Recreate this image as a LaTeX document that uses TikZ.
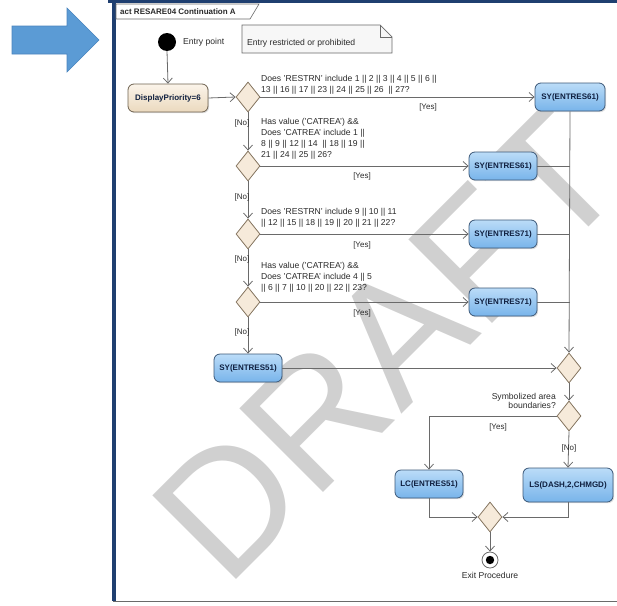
\documentclass[tikz,border=0pt]{standalone}
\usepackage{fontspec}
\setmainfont{Liberation Sans}
\usetikzlibrary{arrows.meta,shapes.geometric,shadows}

\definecolor{framecol}{HTML}{1F3F70}
\definecolor{bigarrow}{HTML}{5B9BD5}
\definecolor{bigarrowline}{HTML}{4A84BE}
\definecolor{linecol}{HTML}{6A6A6A}
\definecolor{textcol}{HTML}{2A2A2A}
\definecolor{acttop}{HTML}{BBDCF8}
\definecolor{actbot}{HTML}{78B4EA}
\definecolor{actborder}{HTML}{3C5878}
\definecolor{acttext}{HTML}{0F1F3F}
\definecolor{begetop}{HTML}{FBF4EA}
\definecolor{begebot}{HTML}{EBD9BE}
\definecolor{begeborder}{HTML}{6E6250}
\definecolor{decfill}{HTML}{F6EADA}
\definecolor{decborder}{HTML}{857560}
\definecolor{notefill}{HTML}{F7F7F7}
\definecolor{watermark}{HTML}{D0D0D0}

\begin{document}
\begin{tikzpicture}[x=1pt,y=-1pt,
  act/.style={rectangle, rounded corners=6pt, draw=actborder, line width=0.8pt,
    top color=acttop, bottom color=actbot, text=acttext,
    font=\fontsize{8}{9}\selectfont\bfseries, minimum height=28pt, inner sep=2pt,
    drop shadow={opacity=0.25, shadow xshift=1.2pt, shadow yshift=-1.2pt}},
  startact/.style={act, top color=begetop, bottom color=begebot, draw=begeborder},
  dec/.style={diamond, draw=decborder, fill=decfill, line width=0.8pt,
    minimum width=24pt, minimum height=30pt, inner sep=0pt},
  flow/.style={draw=linecol, line width=0.8pt, -{Straight Barb[length=5pt,width=9pt]}},
  plain/.style={draw=linecol, line width=0.8pt},
  guard/.style={font=\fontsize{8}{9}\selectfont, text=textcol, inner sep=1pt},
  cond/.style={font=\fontsize{8.6}{11}\selectfont, text=textcol, align=left,
    inner sep=0pt, anchor=north west},
  lbl/.style={font=\fontsize{8.6}{10}\selectfont, text=textcol, inner sep=0pt}
]
\useasboundingbox (0,0) rectangle (617,605);

% watermark behind the diagram
\node[rotate=45, anchor=base west, inner sep=0pt, text=watermark,
  font=\fontsize{172}{172}\selectfont] (wm) at (226,590) {DRAFT};

% big pointer arrow on the left
\filldraw[fill=bigarrow, draw=bigarrowline, line width=0.6pt]
  (12,26) -- (67,26) -- (67,8) -- (99,40) -- (67,72) -- (67,54) -- (12,54) -- cycle;

% diagram frame
\fill[framecol] (108,0) rectangle (617,3);
\fill[framecol] (112,0) rectangle (116,601);
\draw[linecol, line width=1.2pt] (113,601.5) -- (617,601.5);
\filldraw[fill=white, draw=linecol, line width=0.6pt]
  (116,4) -- (259,4) -- (250,19) -- (116,19) -- cycle;
\node[anchor=west, inner sep=0pt, text=textcol, font=\fontsize{8}{9}\selectfont\bfseries]
  (title) at (120,11.5) {act RESARE04 Continuation A};

% entry point and note
\fill[black] (167,42) circle (9);
\coordinate (entry) at (167,51);
\node[lbl, anchor=west] (entrylbl) at (183,42) {Entry point};
\filldraw[fill=notefill, draw=linecol, line width=0.7pt]
  (242,25) -- (380,25) -- (392,37) -- (392,53) -- (242,53) -- cycle;
\draw[linecol, line width=0.6pt] (380,25) -- (380,37) -- (392,37);
\node[lbl, anchor=west] (note) at (247,43) {Entry restricted or prohibited};

% nodes
\node[startact, minimum width=80pt] (dp) at (168,98) {DisplayPriority=6};
\node[dec] (d1) at (248,97) {};
\node[act, minimum width=70pt] (sy1) at (570,97) {SY(ENTRES61)};
\node[dec] (d2) at (248,166) {};
\node[act, minimum width=68pt] (sy2) at (503,166) {SY(ENTRES61)};
\node[dec] (d3) at (248,234) {};
\node[act, minimum width=68pt] (sy3) at (503,234) {SY(ENTRES71)};
\node[dec] (d4) at (248,302) {};
\node[act, minimum width=68pt] (sy4) at (503,302) {SY(ENTRES71)};
\node[act, minimum width=68pt] (sy5) at (248,368) {SY(ENTRES51)};
\node[dec] (m1) at (569,368) {};
\node[dec] (d5) at (569,416) {};
\node[act, minimum width=68pt] (lc) at (429,484) {LC(ENTRES51)};
\node[act, minimum width=90pt, minimum height=34pt] (ls) at (568,485) {LS(DASH,2,CHMGD)};
\node[dec] (m2) at (490,517) {};
\node[circle, draw=linecol, fill=white, line width=0.8pt, minimum size=16pt, inner sep=0pt] (fin) at (490,560) {};
\fill[black] (fin.center) circle (4.2);
\node[lbl, anchor=north] (finlbl) at (490,572) {Exit Procedure};

% condition texts
\node[cond] (c1) at (261,75) {Does 'RESTRN' include 1 || 2 || 3 || 4 || 5 || 6 ||\\13 || 16 || 17 || 23 || 24 || 25 || 26 \ || 27?};
\node[cond] (c2) at (261,118) {Has value ('CATREA') \&\&\\Does 'CATREA' include 1 ||\\8 || 9 || 12 || 14 \ || 18 || 19 ||\\21 || 24 || 25 || 26?};
\node[cond] (c3) at (261,208) {Does 'RESTRN' include 9 || 10 || 11\\|| 12 || 15 || 18 || 19 || 20 || 21 || 22?};
\node[cond] (c4) at (261,262) {Has value ('CATREA') \&\&\\Does 'CATREA' include 4 || 5\\|| 6 || 7 || 10 || 20 || 22 || 23?};
\node[lbl, align=right, anchor=north east, font=\fontsize{8.6}{9.5}\selectfont] (c5) at (556,393) {Symbolized area\\boundaries?};

% connectors
\draw[flow] (entry) -- (dp.north);
\draw[flow] (dp.east) -- (d1.west);
\draw[flow] (d1.east) -- (sy1.west);
\draw[flow] (d1.south) -- (d2.north);
\draw[flow] (d2.east) -- (sy2.west);
\draw[flow] (d2.south) -- (d3.north);
\draw[flow] (d3.east) -- (sy3.west);
\draw[flow] (d3.south) -- (d4.north);
\draw[flow] (d4.east) -- (sy4.west);
\draw[flow] (d4.south) -- (sy5.north);
\draw[flow] (sy5.east) -- (m1.west);
\draw[flow] (sy1.south) -- (m1.north);
\draw[plain] (sy2.east) -- (sy2.east -| sy1.south);
\draw[plain] (sy3.east) -- (sy3.east -| sy1.south);
\draw[plain] (sy4.east) -- (sy4.east -| sy1.south);
\draw[flow] (m1.south) -- (d5.north);
\draw[flow] (d5.west) -| (lc.north);
\draw[flow] (d5.south) -- (ls.north);
\draw[flow] (lc.south) |- (m2.west);
\draw[flow] (ls.south) |- (m2.east);
\draw[flow] (m2.south) -- (fin.north);

% guards
\node[guard] (y1) at (428,107) {[Yes]};
\node[guard] (y2) at (362,176) {[Yes]};
\node[guard] (y3) at (362,245) {[Yes]};
\node[guard] (y4) at (362,313) {[Yes]};
\node[guard] (n1) at (242,123) {[No]};
\node[guard] (n2) at (242,197) {[No]};
\node[guard] (n3) at (242,259) {[No]};
\node[guard] (n4) at (242,332) {[No]};
\node[guard] (y5) at (498,427) {[Yes]};
\node[guard] (n5) at (569,448) {[No]};
\end{tikzpicture}
\end{document}
